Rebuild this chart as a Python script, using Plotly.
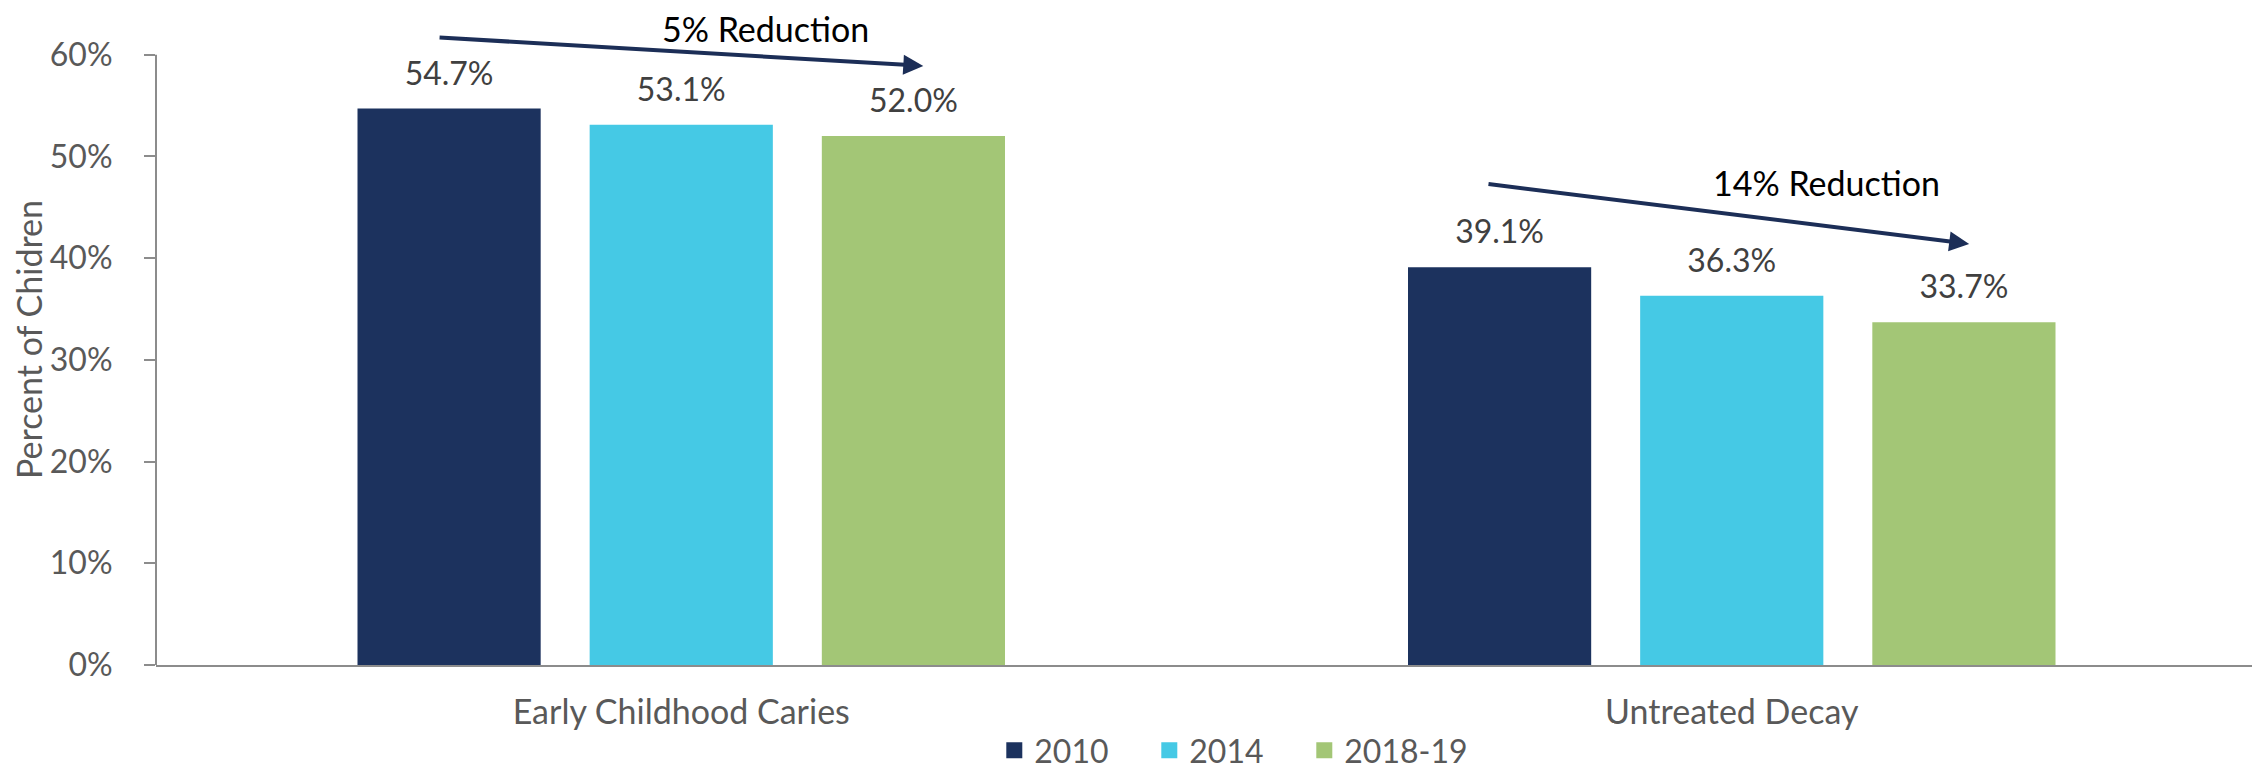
import plotly.graph_objects as go

categories = ["Early Childhood Caries", "Untreated Decay"]
years = ["2010", "2014", "2018-19"]
values = {
    "2010": [54.7, 39.1],
    "2014": [53.1, 36.3],
    "2018-19": [52.0, 33.7],
}
colors = {"2010": "#1C325E", "2014": "#45C9E5", "2018-19": "#A3C676"}

y_ticks = [0, 10, 20, 30, 40, 50, 60]
y_tick_labels = ["0%", "10%", "20%", "30%", "40%", "50%", "60%"]

# trend arrows: tail/head in data units (x = category index), label and label position
arrows = [
    dict(tail=(-0.2315, 61.7), head=(0.2304, 58.9), label="5% Reduction", label_pos=(0.080, 62.6)),
    dict(tail=(0.767, 47.3), head=(1.226, 41.4), label="14% Reduction", label_pos=(1.090, 47.4)),
]

FONT = "Lato, 'Open Sans', sans-serif"
GRAY = "#8C8C8C"
BARGAP = 0.337

fig = go.Figure()
for i, yr in enumerate(years):
    fig.add_trace(go.Bar(
        x=categories, y=values[yr], name=yr, offsetgroup=str(i),
        marker=dict(color=colors[yr], line=dict(width=0)),
        showlegend=False, hoverinfo="x+y",
    ))
for i, yr in enumerate(years):
    # value labels, grouped like the bars
    fig.add_trace(go.Scatter(
        x=categories, y=values[yr], offsetgroup=str(i),
        mode="markers+text", marker=dict(size=24, opacity=0, color=colors[yr]),
        text=[f"{v:.1f}%" for v in values[yr]], textposition="top center",
        textfont=dict(family=FONT, size=32, color="#404040"),
        cliponaxis=False, showlegend=False, hoverinfo="skip",
    ))
for yr in years:
    # legend proxies with larger square symbols (on hidden overlay axes)
    fig.add_trace(go.Scatter(
        x=[None], y=[None], mode="markers", name=yr, xaxis="x2", yaxis="y2",
        marker=dict(symbol="square", size=21, color=colors[yr]),
    ))
# spacer entry so the last legend label is not clipped
fig.add_trace(go.Scatter(
    x=[None], y=[None], mode="markers", name=" ", xaxis="x2", yaxis="y2",
    marker=dict(symbol="square", size=1, color="rgba(0,0,0,0)"),
))

# y-axis line from 0 to 60%
fig.add_shape(type="line", xref="paper", yref="y", x0=0, x1=0, y0=0, y1=60,
              line=dict(color=GRAY, width=2))

for a in arrows:
    fig.add_annotation(
        x=a["head"][0], y=a["head"][1], ax=a["tail"][0], ay=a["tail"][1],
        xref="x", yref="y", axref="x", ayref="y",
        showarrow=True, arrowhead=2, arrowsize=1, arrowwidth=4,
        arrowcolor="#1C2E57", text="",
    )
    fig.add_annotation(
        x=a["label_pos"][0], y=a["label_pos"][1], xref="x", yref="y",
        text=a["label"], showarrow=False,
        font=dict(family=FONT, size=34, color="#000000"),
    )

# page body has an 8px default margin, so the figure is sized 8px smaller
fig.update_layout(
    width=2252, height=763,
    margin=dict(l=148, r=3, t=6, b=106),
    paper_bgcolor="white", plot_bgcolor="white",
    barmode="group", bargap=BARGAP, bargroupgap=0.211,
    scattermode="group", scattergap=BARGAP,
    font=dict(family=FONT, color="#595959"),
    legend=dict(
        orientation="h", x=0.399, xanchor="left",
        yref="container", y=0.027, yanchor="middle",
        font=dict(family=FONT, size=32, color="#595959"),
        itemwidth=30, entrywidth=110,
    ),
    xaxis=dict(
        range=[-0.5, 1.5], showline=True, linecolor=GRAY, linewidth=2,
        ticks="", showgrid=False, zeroline=False, automargin=False,
        tickfont=dict(family=FONT, size=34, color="#595959"),
        ticklabelstandoff=16,
    ),
    yaxis=dict(
        range=[0, 64], tickvals=y_ticks, ticktext=y_tick_labels,
        showline=False, showgrid=False, zeroline=False, automargin=False,
        ticks="outside", ticklen=11, tickwidth=2, tickcolor=GRAY,
        tickfont=dict(family=FONT, size=32, color="#595959"),
        ticklabelstandoff=25,
        title=dict(text="Percent of Chidren", standoff=12,
                   font=dict(family=FONT, size=34, color="#595959")),
    ),
    xaxis2=dict(overlaying="x", visible=False, range=[0, 1]),
    yaxis2=dict(overlaying="y", visible=False, range=[0, 1]),
)

fig.write_html("out.html")
